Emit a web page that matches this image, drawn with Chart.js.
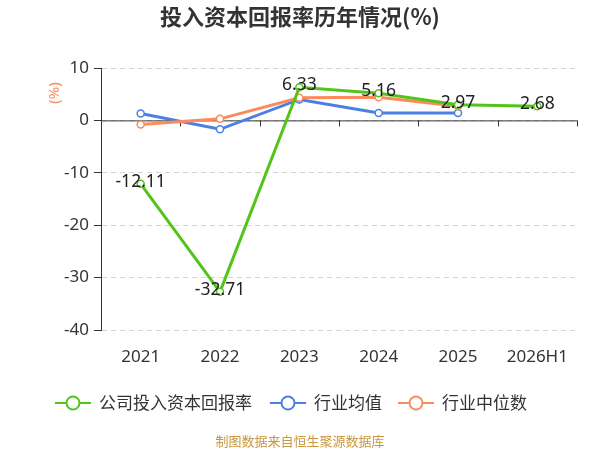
<!DOCTYPE html>
<html>
<head>
<meta charset="utf-8">
<script src="https://cdn.jsdelivr.net/npm/chart.js@4.4.1/dist/chart.umd.min.js"></script>
<style>
  html, body { margin: 0; padding: 0; background: #fff; }
  #wrap { width: 600px; height: 450px; }
</style>
</head>
<body>
<div id="wrap"><canvas id="roic" width="600" height="450"></canvas></div>
<script>
const categories = ['2021', '2022', '2023', '2024', '2025', '2026H1'];
const companyRoic = [-12.11, -32.71, 6.33, 5.16, 2.97, 2.68];
const industryAvg = [1.3, -1.7, 4.0, 1.4, 1.4, null];
const industryMedian = [-0.8, 0.3, 4.3, 4.4, 2.7, null];
const seriesNames = ['公司投入资本回报率', '行业均值', '行业中位数'];
const seriesColors = ['#52c41a', '#4a80e3', '#fb8b5d'];
const yMin = -40, yMax = 10, yStep = 10;

const FONT = '"Noto Sans", "Noto Sans CJK SC", sans-serif';
const CJK = '"Noto Sans CJK SC", "Noto Sans", sans-serif';

function makeSet(label, data, color, order) {
    return {
        label: label,
        data: data,
        order: order,
        borderColor: color,
        backgroundColor: '#fff',
        borderWidth: 3,
        pointRadius: 3.5,
        pointBorderWidth: 1.5,
        pointBackgroundColor: '#fff',
        pointBorderColor: color,
        tension: 0,
        spanGaps: false
    };
}

// zero line, x ticks on zero line, "(%)", title, labels, legend, footer
const decor = {
    id: 'decor',
    beforeDatasetsDraw(chart) {
        const c = chart.ctx, area = chart.chartArea;
        const y0 = chart.scales.y.getPixelForValue(0);
        c.save();
        c.strokeStyle = '#333';
        c.lineWidth = 1;
        c.beginPath();
        c.moveTo(area.left, y0 + 0.5);
        c.lineTo(area.right, y0 + 0.5);
        const step = (area.right - area.left) / categories.length;
        for (let i = 1; i <= categories.length; i++) {
            const x = Math.round(area.left + i * step) + 0.5;
            c.moveTo(x, y0);
            c.lineTo(x, y0 + 6);
        }
        c.stroke();
        c.restore();
    },
    afterDatasetsDraw(chart) {
        const c = chart.ctx;
        const meta = chart.getDatasetMeta(0);
        c.save();
        c.font = '17.5px ' + FONT;
        c.fillStyle = '#222';
        c.textAlign = 'center';
        c.textBaseline = 'middle';
        meta.data.forEach((pt, i) => {
            c.fillText(companyRoic[i].toFixed(2), pt.x, pt.y - 2);
        });
        c.restore();
    },
    afterDraw(chart) {
        const c = chart.ctx;
        c.save();
        // title
        c.font = 'bold 22px ' + CJK;
        c.fillStyle = '#333';
        c.textAlign = 'center';
        c.textBaseline = 'middle';
        c.fillText('投入资本回报率历年情况(%)', 300, 17);

        // axis unit
        c.save();
        c.translate(55, 93);
        c.rotate(-Math.PI / 2);
        c.font = '15px ' + FONT;
        c.fillStyle = '#fb8b5d';
        c.fillText('(%)', 0, 0);
        c.restore();

        // legend
        const legendX = [55, 270, 398];
        const ly = 403;
        c.font = '17px ' + CJK;
        c.textAlign = 'left';
        chart.data.datasets.forEach((ds, i) => {
            const x = legendX[i];
            c.strokeStyle = ds.borderColor;
            c.lineWidth = 2;
            c.beginPath();
            c.moveTo(x, ly);
            c.lineTo(x + 36, ly);
            c.stroke();
            c.beginPath();
            c.arc(x + 18, ly, 6.5, 0, Math.PI * 2);
            c.fillStyle = '#fff';
            c.fill();
            c.stroke();
            c.fillStyle = '#333';
            c.fillText(ds.label, x + 44, ly);
        });

        // footer
        c.font = '13px ' + CJK;
        c.fillStyle = '#c8973f';
        c.textAlign = 'center';
        c.fillText('制图数据来自恒生聚源数据库', 300, 441);
        c.restore();
    }
};

new Chart(document.getElementById('roic'), {
    type: 'line',
    data: {
        labels: categories,
        datasets: [
            makeSet(seriesNames[0], companyRoic, seriesColors[0], 0),
            makeSet(seriesNames[1], industryAvg, seriesColors[1], 2),
            makeSet(seriesNames[2], industryMedian, seriesColors[2], 1)
        ]
    },
    options: {
        responsive: false,
        animation: false,
        layout: { padding: { top: 68, left: 0, right: 23, bottom: 80 } },
        plugins: {
            legend: { display: false },
            tooltip: { enabled: false },
            title: { display: false }
        },
        scales: {
            x: {
                offset: true,
                grid: { display: false },
                border: { display: false },
                ticks: { color: '#333', font: { size: 17, family: FONT }, padding: 9 },
                afterFit(scale) { scale.height = 40; }
            },
            y: {
                min: yMin,
                max: yMax,
                ticks: { stepSize: yStep, color: '#333', font: { size: 17, family: FONT }, padding: 5 },
                grid: {
                    color: '#d4d4d4',
                    tickColor: '#333',
                    tickLength: 7,
                    tickBorderDash: []
                },
                border: { display: true, color: '#333', dash: [5, 4] },
                afterFit(scale) { scale.width = 101; }
            }
        }
    },
    plugins: [decor]
});
</script>
</body>
</html>
